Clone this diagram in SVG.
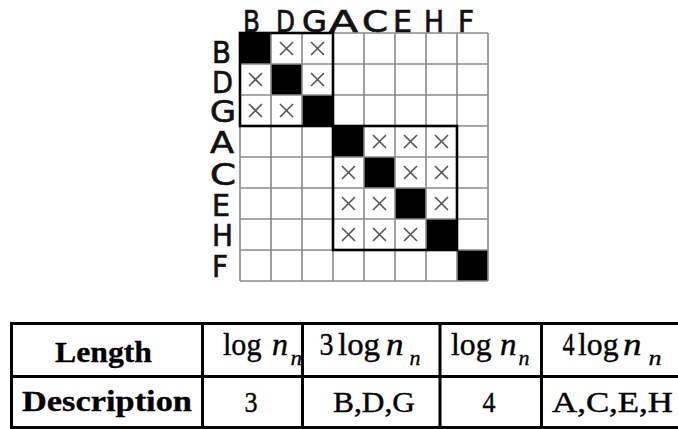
<svg xmlns="http://www.w3.org/2000/svg" width="678" height="429" viewBox="0 0 678 429">
<style>
.hdr{font-family:"DejaVu Sans","Liberation Sans",sans-serif;font-size:30px;fill:#111;stroke:#111;stroke-width:0.7}
.rl{font-family:"DejaVu Sans","Liberation Sans",sans-serif;font-size:31px;fill:#111;stroke:#111;stroke-width:0.7}
.grid{stroke:#8a8a8a;stroke-width:1.6;fill:none}
.blk{stroke:#000;stroke-width:2.6;fill:none}
.x{stroke:#555;stroke-width:1.6;fill:none}
.tb{stroke:#000;stroke-width:3;fill:none}
.bold{font-family:"Liberation Serif","Times New Roman",serif;font-weight:bold;font-size:30px;fill:#000;stroke:#000;stroke-width:0.3}
.rm{font-family:"Liberation Serif","Times New Roman",serif;font-size:31px;fill:#000;stroke:#000;stroke-width:0.4}
.it{font-family:"Liberation Serif","Times New Roman",serif;font-style:italic;font-size:31px;fill:#000;stroke:#000;stroke-width:0.4}
.sub{font-family:"Liberation Serif","Times New Roman",serif;font-style:italic;font-size:21px;fill:#000;stroke:#000;stroke-width:0.3}
.cell{font-family:"Liberation Serif","Times New Roman",serif;font-size:29px;fill:#000;stroke:#000;stroke-width:0.4}
</style>
<defs>
<path id="xm" class="x" d="M-6.5,-6.5 L6.5,6.5 M-6.5,6.5 L6.5,-6.5"/>
</defs>
<rect width="678" height="429" fill="#fff"/>

<g id="matrix">
  <rect x="240" y="33" width="248" height="248" fill="#fff"/>
  <g id="diagonal" fill="#000">
    <rect x="240" y="33" width="31" height="31"/>
    <rect x="271" y="64" width="31" height="31"/>
    <rect x="302" y="95" width="31" height="31"/>
    <rect x="333" y="126" width="31" height="31"/>
    <rect x="364" y="157" width="31" height="31"/>
    <rect x="395" y="188" width="31" height="31"/>
    <rect x="426" y="219" width="31" height="31"/>
    <rect x="457" y="250" width="31" height="31"/>
  </g>
  <path class="grid" d="M240,33V281M271,33V281M302,33V281M333,33V281M364,33V281M395,33V281M426,33V281M457,33V281M488,33V281
  M240,33H488M240,64H488M240,95H488M240,126H488M240,157H488M240,188H488M240,219H488M240,250H488M240,281H488"/>
  <g id="marks">
    <use href="#xm" x="286.5" y="48.5"/><use href="#xm" x="317.5" y="48.5"/>
    <use href="#xm" x="255.5" y="79.5"/><use href="#xm" x="317.5" y="79.5"/>
    <use href="#xm" x="255.5" y="110.5"/><use href="#xm" x="286.5" y="110.5"/>
    <use href="#xm" x="379.5" y="141.5"/><use href="#xm" x="410.5" y="141.5"/><use href="#xm" x="441.5" y="141.5"/>
    <use href="#xm" x="348.5" y="172.5"/><use href="#xm" x="410.5" y="172.5"/><use href="#xm" x="441.5" y="172.5"/>
    <use href="#xm" x="348.5" y="203.5"/><use href="#xm" x="379.5" y="203.5"/><use href="#xm" x="441.5" y="203.5"/>
    <use href="#xm" x="348.5" y="234.5"/><use href="#xm" x="379.5" y="234.5"/><use href="#xm" x="410.5" y="234.5"/>
  </g>
  <rect id="block1" class="blk" x="240" y="33" width="93" height="93"/>
  <rect id="block2" class="blk" x="333" y="126" width="124" height="124"/>
  <g id="colLabels">
    <text class="hdr" x="243" y="32" textLength="17" lengthAdjust="spacingAndGlyphs">B</text>
    <text class="hdr" x="276" y="32" textLength="19" lengthAdjust="spacingAndGlyphs">D</text>
    <text class="hdr" x="302" y="32" textLength="25" lengthAdjust="spacingAndGlyphs">G</text>
    <text class="hdr" x="329" y="32" textLength="29" lengthAdjust="spacingAndGlyphs">A</text>
    <text class="hdr" x="362" y="32" textLength="26" lengthAdjust="spacingAndGlyphs">C</text>
    <text class="hdr" x="393" y="32" textLength="19" lengthAdjust="spacingAndGlyphs">E</text>
    <text class="hdr" x="424" y="32" textLength="20" lengthAdjust="spacingAndGlyphs">H</text>
    <text class="hdr" x="458" y="32" textLength="16" lengthAdjust="spacingAndGlyphs">F</text>
  </g>
  <g id="rowLabels">
    <text class="rl" x="212" y="63" textLength="19" lengthAdjust="spacingAndGlyphs">B</text>
    <text class="rl" x="212" y="93" textLength="21" lengthAdjust="spacingAndGlyphs">D</text>
    <text class="rl" x="210" y="122" textLength="26" lengthAdjust="spacingAndGlyphs">G</text>
    <text class="rl" x="210" y="153" textLength="24" lengthAdjust="spacingAndGlyphs">A</text>
    <text class="rl" x="210" y="185" textLength="26" lengthAdjust="spacingAndGlyphs">C</text>
    <text class="rl" x="212" y="216" textLength="18" lengthAdjust="spacingAndGlyphs">E</text>
    <text class="rl" x="212" y="246" textLength="21" lengthAdjust="spacingAndGlyphs">H</text>
    <text class="rl" x="212" y="277" textLength="16" lengthAdjust="spacingAndGlyphs">F</text>
  </g>
</g>

<g id="table">
  <path class="tb" d="M11.5,323.5H680M11.5,376.5H680M11.5,427.5H680M11.5,322V429M202.5,322V429M302.5,322V429M440,322V429M541.5,322V429"/>
  <g id="row1">
    <text class="bold" x="55" y="361.5" textLength="97" lengthAdjust="spacingAndGlyphs">Length</text>
    <text class="rm" x="223" y="354.7" textLength="38.5" lengthAdjust="spacingAndGlyphs">log</text>
    <text class="it" x="272" y="354.7" textLength="16" lengthAdjust="spacingAndGlyphs">n</text>
    <text class="sub" x="290.5" y="364.7" textLength="11.5" lengthAdjust="spacingAndGlyphs">n</text>
    <text class="rm" x="319.5" y="354.7" textLength="14" lengthAdjust="spacingAndGlyphs">3</text>
    <text class="rm" x="338" y="354.7" textLength="42" lengthAdjust="spacingAndGlyphs">log</text>
    <text class="it" x="386" y="354.7" textLength="17.5" lengthAdjust="spacingAndGlyphs">n</text>
    <text class="sub" x="409.5" y="364.7" textLength="11" lengthAdjust="spacingAndGlyphs">n</text>
    <text class="rm" x="451" y="354.7" textLength="40.5" lengthAdjust="spacingAndGlyphs">log</text>
    <text class="it" x="500" y="354.7" textLength="16.5" lengthAdjust="spacingAndGlyphs">n</text>
    <text class="sub" x="518.5" y="364.7" textLength="11" lengthAdjust="spacingAndGlyphs">n</text>
    <text class="rm" x="562.5" y="354.7" textLength="12" lengthAdjust="spacingAndGlyphs">4</text>
    <text class="rm" x="578" y="354.7" textLength="40.5" lengthAdjust="spacingAndGlyphs">log</text>
    <text class="it" x="623" y="354.7" textLength="18.5" lengthAdjust="spacingAndGlyphs">n</text>
    <text class="sub" x="648.5" y="364.7" textLength="13" lengthAdjust="spacingAndGlyphs">n</text>
  </g>
  <g id="row2">
    <text class="bold" x="22" y="411" textLength="170" lengthAdjust="spacingAndGlyphs">Description</text>
    <text class="cell" x="244.5" y="412" textLength="13" lengthAdjust="spacingAndGlyphs">3</text>
    <text class="cell" x="333" y="412" textLength="82" lengthAdjust="spacingAndGlyphs">B,D,G</text>
    <text class="cell" x="482.5" y="412" textLength="13" lengthAdjust="spacingAndGlyphs">4</text>
    <text class="cell" x="552" y="412" textLength="121" lengthAdjust="spacingAndGlyphs">A,C,E,H</text>
  </g>
</g>
</svg>
